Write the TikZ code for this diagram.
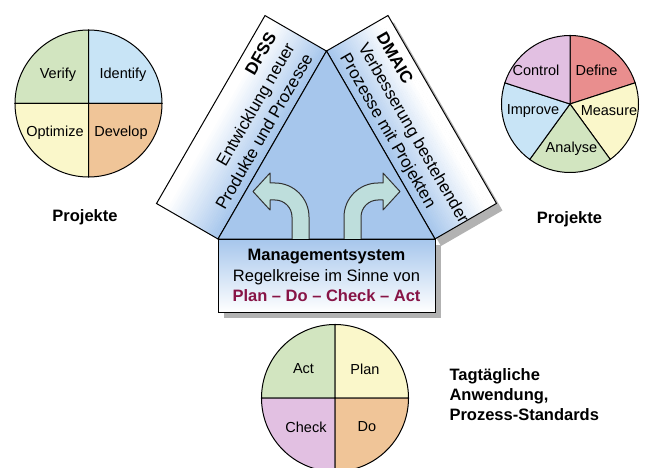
\documentclass[tikz,border=0pt]{standalone}
\usepackage{fontspec}
\setmainfont{Liberation Sans}
\usetikzlibrary{calc,shadows}
\definecolor{triblue}{RGB}{166,198,236}
\definecolor{arrowteal}{RGB}{190,222,220}
\definecolor{shadowgray}{RGB}{178,178,178}
\definecolor{pgreen}{RGB}{210,229,192}
\definecolor{pblue}{RGB}{200,228,246}
\definecolor{pyellow}{RGB}{250,247,202}
\definecolor{porange}{RGB}{240,197,152}
\definecolor{pred}{RGB}{233,142,142}
\definecolor{ppink}{RGB}{226,192,226}
\definecolor{pdca}{RGB}{135,20,70}
\tikzset{
  outline/.style={draw=black, line width=1pt},
  slicelabel/.style={font=\fontsize{14.5}{17}\selectfont},
  paneltext/.style={font=\fontsize{17}{20}\selectfont},
  heading/.style={font=\bfseries\fontsize{16.5}{20}\selectfont, align=left},
  mgmtbox/.style={outline, minimum width=217pt, minimum height=73pt, inner sep=0pt,
    align=center, font=\fontsize{16.5}{20.5}\selectfont,
    top color=triblue, bottom color=white,
    drop shadow={shadow xshift=6pt, shadow yshift=-6pt, fill=shadowgray, opacity=1}},
  bentarrow/.style={fill=arrowteal, draw=black!80, line width=1pt, line join=round},
}
% panel fading from the triangle side (v=0) out to white, in strips
\newcommand{\panelfill}{%
  \foreach \i in {0,...,35} {
    \pgfmathtruncatemacro\tint{max(0,100-\i*100/30)}
    \fill[triblue!\tint!white] (0,{\i*71/36}) rectangle (217,{(\i+1)*71/36+0.4});
  }
  \draw[outline] (0,0) rectangle (217,71);
}
\begin{document}
\begin{tikzpicture}[x=1pt, y=1pt]
\useasboundingbox (0,0) rectangle (649,467);
% triangle corners
\coordinate (L) at (218,228);
\coordinate (R) at (435,228);
\coordinate (T) at (326.5,416);
\coordinate (T2) at ($(T)+(30:71)$);
\coordinate (R2) at ($(R)+(30:71)$);

% shadow behind the DMAIC panel
\fill[shadowgray] ([shift={(6,-7)}]T) -- ([shift={(6,-7)}]T2) -- ([shift={(6,-7)}]R2) -- ([shift={(6,-7)}]R) -- cycle;

% DFSS panel
\begin{scope}[shift={(L)}, rotate=60]
  \panelfill
  \node[paneltext, anchor=base east, rotate=60] (dfss) at (208,50) {\bfseries DFSS};
  \node[paneltext, anchor=base east, rotate=60] (dfssa) at (208,29) {Entwicklung neuer};
  \node[paneltext, anchor=base east, rotate=60] (dfssb) at (208,8) {Produkte und Prozesse};
\end{scope}

% DMAIC panel
\begin{scope}[shift={(T)}, rotate=-60]
  \panelfill
  \node[paneltext, anchor=base west, rotate=-60] (dmaic) at (9,50) {\bfseries DMAIC};
  \node[paneltext, anchor=base west, rotate=-60] (dmaica) at (9,29) {Verbesserung bestehender};
  \node[paneltext, anchor=base west, rotate=-60] (dmaicb) at (9,8) {Prozesse mit Projekten};
\end{scope}

\filldraw[fill=triblue, outline, line join=round] (L) -- (T) -- (R) -- cycle;

% the two bent arrows
\foreach \s in {1,-1} {
  \begin{scope}[shift={(326.5,0)}, xscale=\s]
    \filldraw[bentarrow] (-34.5,228) -- (-34.5,250) arc (0:90:17) -- (-56.5,267) -- (-56.5,257)
      -- (-73.5,275.5) -- (-56.5,294) -- (-56.5,284) -- (-51.5,284) arc (90:0:34) -- (-17.5,228);
  \end{scope}
}

\node[mgmtbox] (mgmt) at (326.5,191.5)
  {\textbf{Managementsystem}\\Regelkreise im Sinne von\\{\color{pdca}\bfseries Plan -- Do -- Check -- Act}};

% pie on the left
\coordinate (pieL) at (88.5,363.5);
\foreach \a/\b/\c in {90/180/pgreen, 0/90/pblue, 180/270/pyellow, 270/360/porange}
  \filldraw[fill=\c, outline] (pieL) -- ++(\a:73.5) arc (\a:\b:73.5) -- cycle;
\node[slicelabel] (verify) at (58,392) {Verify};
\node[slicelabel] (identify) at (123,392) {Identify};
\node[slicelabel] (optimize) at (55,334) {Optimize};
\node[slicelabel] (develop) at (121,334) {Develop};
\node[heading] (projL) at (85,250) {Projekte};

% pie on the right
\coordinate (pieR) at (570,363);
\foreach \a/\b/\c in {18/90/pred, -54/18/pyellow, -126/-54/pgreen, 162/234/pblue, 90/162/ppink}
  \filldraw[fill=\c, outline] (pieR) -- ++(\a:68.5) arc (\a:\b:68.5) -- cycle;
\node[slicelabel] (control) at (536,397) {Control};
\node[slicelabel] (define) at (596.5,397) {Define};
\node[slicelabel] (improve) at (533,356) {Improve};
\node[slicelabel] (measure) at (609,356) {Measure};
\node[slicelabel] (analyse) at (571.5,318) {Analyse};
\node[heading] (projR) at (569.5,248) {Projekte};

% pie at the bottom
\coordinate (pieB) at (335,69);
\foreach \a/\b/\c in {90/180/pgreen, 0/90/pyellow, 180/270/ppink, 270/360/porange}
  \filldraw[fill=\c, outline] (pieB) -- ++(\a:73.5) arc (\a:\b:73.5) -- cycle;
\node[slicelabel] (act) at (303.5,98) {Act};
\node[slicelabel] (plan) at (365,98) {Plan};
\node[slicelabel] (check) at (306,40) {Check};
\node[slicelabel] (do) at (367,40) {Do};
\node[heading, anchor=west] (daily) at (446,72) {Tagtägliche\\Anwendung,\\Prozess-Standards};
\end{tikzpicture}
\end{document}
